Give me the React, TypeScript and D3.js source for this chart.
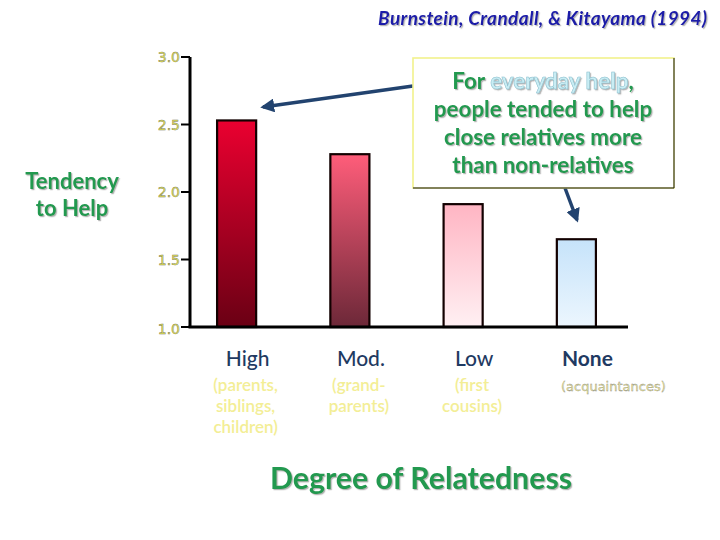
import { useMemo } from 'react'
import * as d3 from 'd3'

const categories = ['High', 'Mod.', 'Low', 'None']
const helpValues = [2.53, 2.28, 1.91, 1.65]
const subLabels = [
  ['(parents,', 'siblings,', 'children)'],
  ['(grand-', 'parents)'],
  ['(first', 'cousins)'],
  ['(acquaintances)'],
]
const yTicks = [1.0, 1.5, 2.0, 2.5, 3.0]
const barColors = [
  ['#ea0030', '#6a0014'],
  ['#ff5d7a', '#6c2838'],
  ['#ffb5c3', '#fff0f3'],
  ['#c6e3fa', '#ecf6fe'],
]

const W = 720
const H = 540
const green = '#21994f'
const navy = '#1f3a62'
const arrowBlue = '#22436f'

export default function App() {
  const x = useMemo(
    () => d3.scaleBand<string>().domain(categories).range([180, 633]).paddingInner(0.655).paddingOuter(0.3275),
    []
  )
  const y = useMemo(() => d3.scaleLinear().domain([1, 3]).range([327, 57]), [])
  const bw = x.bandwidth()

  return (
    <svg width={W} height={H} style={{ position: 'absolute', left: 0, top: 0, background: '#fff' }}>
      <defs>
        {barColors.map((c, i) => (
          <linearGradient key={i} id={`g${i}`} x1="0" y1="0" x2="0" y2="1">
            <stop offset="0%" stopColor={c[0]} />
            <stop offset="100%" stopColor={c[1]} />
          </linearGradient>
        ))}
        <filter id="shadow" x="-10%" y="-10%" width="120%" height="130%">
          <feDropShadow dx="1.2" dy="1.2" stdDeviation="0.6" floodColor="#777" floodOpacity="0.55" />
        </filter>
        <marker id="head" viewBox="0 0 10 10" refX="8" refY="5" markerWidth="4" markerHeight="4" orient="auto">
          <path d="M0,0 L10,5 L0,10 z" fill={arrowBlue} />
        </marker>
      </defs>

      {/* title */}
      <text
        x={707}
        y={25}
        textAnchor="end"
        fontFamily="Lato"
        fontStyle="italic"
        fontWeight={700}
        fontSize={19}
        fill="#1b1ba8"
        filter="url(#shadow)"
        textLength={329}
        lengthAdjust="spacing"
      >
        Burnstein, Crandall, &amp; Kitayama  (1994)
      </text>

      {/* y axis label */}
      <g fontFamily="Lato" fontWeight={700} fontSize={22} fill={green} textAnchor="middle" filter="url(#shadow)">
        <text x={72} y={189}>Tendency</text>
        <text x={72} y={216}>to Help</text>
      </g>

      {/* bars */}
      {categories.map((c, i) => (
        <rect
          key={c}
          x={x(c)}
          y={y(helpValues[i])}
          width={bw}
          height={y(1) - y(helpValues[i])}
          fill={`url(#g${i})`}
          stroke="#120000"
          strokeWidth={2.2}
        />
      ))}

      {/* axes */}
      <line x1={190} x2={190} y1={y(3)} y2={y(1)} stroke="#000" strokeWidth={3} />
      <line x1={188.5} x2={628} y1={y(1)} y2={y(1)} stroke="#000" strokeWidth={3} />
      {yTicks.map((t) => (
        <g key={t}>
          <line x1={181} x2={190} y1={y(t)} y2={y(t)} stroke="#000" strokeWidth={2} />
          <text
            x={180}
            y={y(t) + (t === 1 ? 7 : 5)}
            textAnchor="end"
            fontFamily="DejaVu Sans"
            fontSize={14}
            fill="#e8e85a"
            stroke="#7a7a50"
            strokeWidth={0.45}
          >
            {t.toFixed(1)}
          </text>
        </g>
      ))}

      {/* category labels */}
      {categories.map((c, i) => {
        const cx = (x(c) ?? 0) + bw / 2 + 11
        return (
          <g key={c} textAnchor="middle">
            <text x={cx} y={366} fontFamily="Lato" fontWeight={c === 'None' ? 700 : 500} fontSize={21} fill={navy}>
              {c}
            </text>
            {subLabels[i].map((s, j) => (
              <text
                key={s}
                x={c === 'None' ? cx + 26 : cx - 2}
                y={391 + j * 21}
                fontFamily={c === 'None' ? 'DejaVu Sans' : 'Lato'}
                fontWeight={c === 'None' ? 400 : 600}
                fontSize={c === 'None' ? 13 : 17}
                fill="#f3ee96"
                stroke={c === 'None' ? '#888' : 'none'}
                strokeWidth={0.35}
              >
                {s}
              </text>
            ))}
          </g>
        )
      })}

      {/* x axis title */}
      <text
        x={421}
        y={489}
        textAnchor="middle"
        fontFamily="Lato"
        fontWeight={700}
        fontSize={30.3}
        fill={green}
        filter="url(#shadow)"
      >
        Degree of Relatedness
      </text>

      {/* arrows */}
      <line
        x1={413}
        y1={86}
        x2={263}
        y2={107}
        stroke={arrowBlue}
        strokeWidth={3.5}
        markerEnd="url(#head)"
      />
      <line
        x1={565}
        y1={188}
        x2={577}
        y2={220}
        stroke={arrowBlue}
        strokeWidth={3.5}
        markerEnd="url(#head)"
      />

      {/* annotation box */}
      <rect x={413} y={58} width={261} height={130} fill="#fff" stroke="#f2f28c" strokeWidth={1.6} />
      <path d="M674,58 L674,188 L413,188" fill="none" stroke="#111" strokeWidth={1} />
      <g fontFamily="Lato" fontWeight={700} fontSize={22.4} fill={green} textAnchor="middle" filter="url(#shadow)">
        <text x={543} y={89}>
          For{' '}
          <tspan fill="#c9edf4" stroke="#86bccb" strokeWidth={0.5}>
            everyday help
          </tspan>
          ,
        </text>
        <text x={543} y={117}>people tended to help</text>
        <text x={543} y={145}>close relatives more</text>
        <text x={543} y={173}>than non-relatives</text>
      </g>
    </svg>
  )
}
